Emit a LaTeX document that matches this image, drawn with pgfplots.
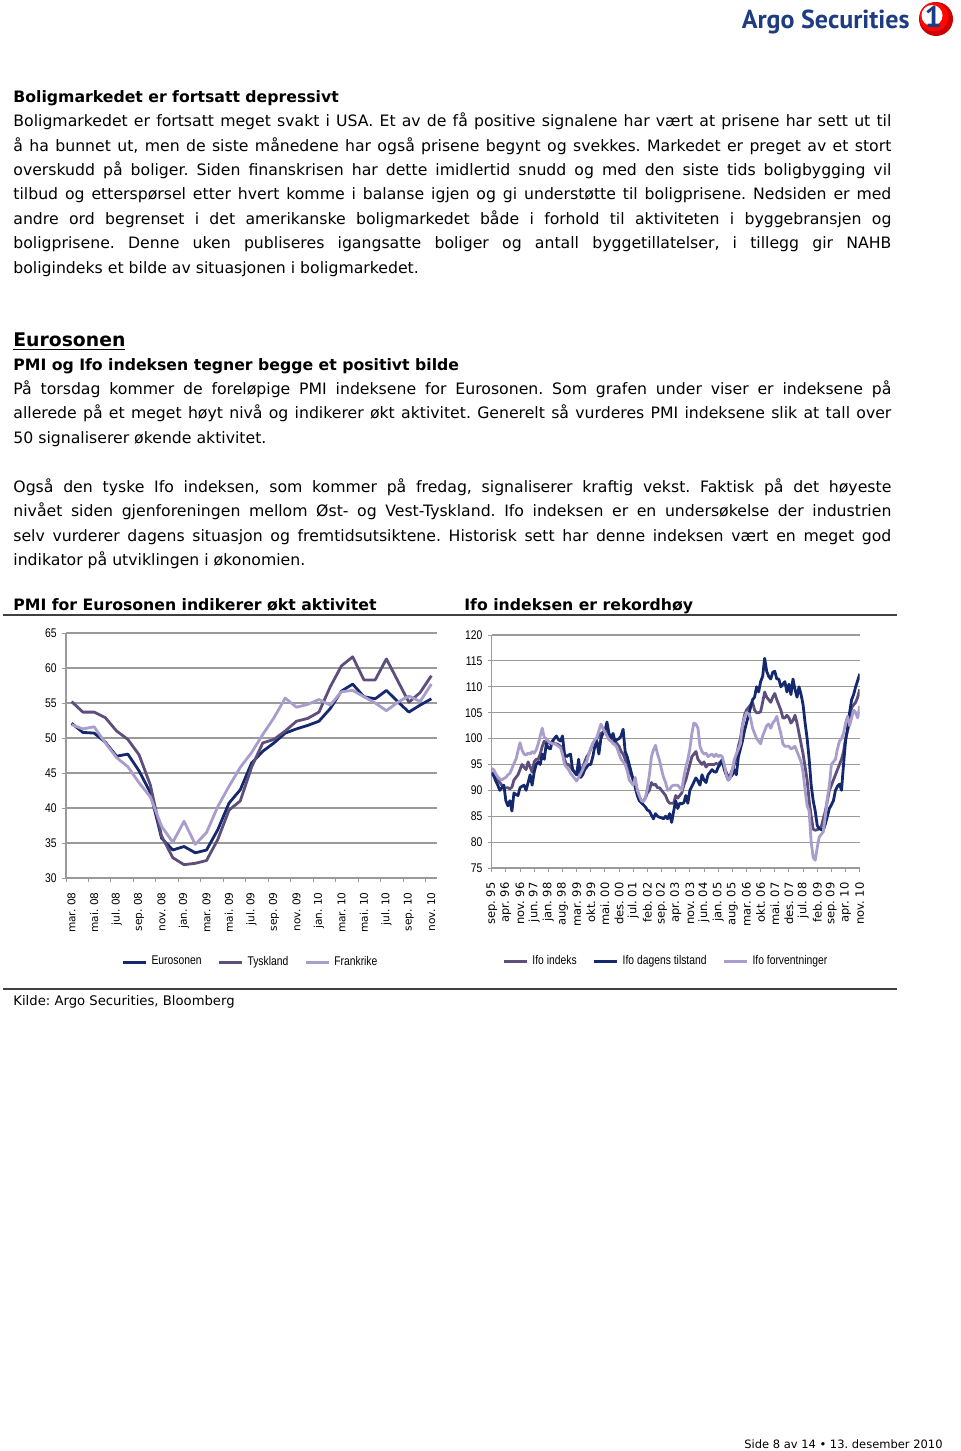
\documentclass[border=0pt]{standalone}
\usepackage{fontspec}
\setmainfont{DejaVu Sans}
\newfontfamily\narrowfont[FakeStretch=0.82]{Liberation Sans}
\newfontfamily\logofont{PT Sans}
\usepackage{pgfplots}
\usepackage{pgfplotstable}
\pgfplotsset{compat=1.18}
\frenchspacing

\definecolor{navyc}{HTML}{14286E}
\definecolor{purc}{HTML}{5E4E7C}
\definecolor{lavc}{HTML}{A99DCB}
\definecolor{gridc}{HTML}{9A9A9A}
\definecolor{logoblue}{HTML}{1E3C82}

\newcommand{\bodyfont}{\fontsize{7.85}{12.2}\selectfont}
\newcommand{\jline}[2]{\node[anchor=base west, inner sep=0pt] at (13,#1) {\bodyfont\makebox[439pt][s]{#2}};}
\newcommand{\fline}[2]{\node[anchor=base west, inner sep=0pt] at (13,#1) {\bodyfont #2};}

% PMI, mar 08 - nov 10
\pgfplotstableread{
i euro tysk frank
0 52.1 55.2 51.9
1 50.8 53.7 51.3
2 50.7 53.7 51.6
3 49.4 52.9 49.3
4 47.4 51.0 47.2
5 47.7 49.8 45.9
6 45.3 47.6 43.6
7 42.2 43.3 41.6
8 35.7 36.0 37.4
9 34.0 32.9 35.1
10 34.5 31.9 38.1
11 33.6 32.1 34.8
12 34.0 32.5 36.5
13 36.9 35.5 40.2
14 40.7 39.7 43.1
15 42.6 41.0 45.8
16 46.4 45.8 47.9
17 48.1 49.3 50.5
18 49.3 49.8 52.9
19 50.7 51.0 55.7
20 51.3 52.4 54.4
21 51.8 52.8 54.8
22 52.4 53.7 55.5
23 54.2 57.3 54.7
24 56.7 60.3 56.6
25 57.7 61.6 56.8
26 55.9 58.3 55.9
27 55.6 58.3 55.0
28 56.8 61.3 53.9
29 55.2 58.2 55.1
30 53.7 55.1 56.0
31 54.7 56.5 55.2
32 55.6 58.9 57.7
}\pmidata

% Ifo, sep 95 - nov 10
\pgfplotstableread{
i idx cur exp
0 93.5 93.3 94.2
1 93.0 92.8 94.0
2 92.5 91.8 93.2
3 92.0 91.0 92.6
4 91.5 90.0 92.2
5 91.0 90.5 92.0
6 90.5 91.0 92.3
7 90.5 88.0 92.5
8 90.5 87.0 93.0
9 90.3 88.0 93.3
10 90.6 86.0 94.2
11 92.0 89.5 95.2
12 92.5 89.2 96.0
13 93.0 89.0 97.6
14 94.0 90.5 99.2
15 95.0 90.8 97.8
16 94.5 91.0 97.0
17 94.0 90.0 96.8
18 95.5 91.5 97.2
19 94.5 93.0 97.0
20 93.5 91.0 97.5
21 95.5 93.5 97.2
22 96.0 95.0 97.8
23 96.0 95.5 99.0
24 97.0 95.0 100.5
25 98.5 97.0 102.0
26 99.5 96.0 100.2
27 99.0 99.0 100.0
28 99.5 98.2 99.5
29 99.0 98.0 99.2
30 99.5 99.5 99.0
31 99.0 100.0 99.0
32 99.0 100.5 98.8
33 98.8 99.8 98.5
34 98.5 99.5 98.2
35 97.5 100.5 97.0
36 96.0 97.0 95.0
37 95.0 96.5 94.5
38 95.0 96.8 94.0
39 94.5 97.0 93.3
40 94.0 94.0 92.8
41 93.5 93.5 92.3
42 93.0 93.0 91.8
43 93.5 96.0 92.5
44 93.5 92.5 93.2
45 94.5 93.0 94.0
46 95.5 94.0 95.0
47 96.5 94.5 95.5
48 97.0 95.0 97.0
49 98.0 95.0 98.2
50 99.0 96.5 99.0
51 99.5 98.5 99.8
52 100.0 99.5 100.2
53 100.5 97.0 101.5
54 101.0 100.0 102.8
55 101.2 101.0 102.0
56 101.5 101.5 101.2
57 101.0 103.2 100.5
58 100.0 101.0 99.8
59 100.0 100.0 99.5
60 99.5 101.0 99.0
61 99.5 99.5 98.8
62 99.0 99.8 98.2
63 98.5 100.0 97.0
64 97.5 100.5 96.0
65 97.0 101.8 95.5
66 96.0 97.5 95.0
67 95.0 96.5 93.8
68 93.5 95.0 92.0
69 93.0 93.5 91.5
70 92.0 92.0 91.0
71 91.5 90.5 92.5
72 90.0 89.0 90.0
73 88.5 88.0 89.0
74 88.0 87.6 88.0
75 88.0 87.2 87.8
76 88.5 86.8 88.5
77 89.5 86.2 90.5
78 90.0 86.0 93.0
79 91.5 85.2 96.5
80 91.0 84.5 97.8
81 91.2 85.5 98.7
82 90.5 85.0 97.0
83 90.5 84.8 95.8
84 90.0 84.7 94.0
85 89.5 84.5 92.5
86 89.0 85.0 91.5
87 88.0 84.5 90.0
88 87.5 85.5 90.2
89 87.5 83.8 90.8
90 87.5 86.0 91.0
91 89.0 88.0 91.0
92 88.5 86.5 91.0
93 89.0 87.5 90.5
94 89.5 87.4 90.0
95 91.0 87.6 92.5
96 92.0 89.0 94.5
97 93.5 87.5 96.0
98 95.0 90.0 98.0
99 96.5 90.8 101.0
100 97.0 91.6 103.0
101 97.5 92.4 102.8
102 96.0 91.8 102.0
103 95.5 91.0 98.5
104 95.0 93.0 97.5
105 95.5 92.0 97.0
106 94.5 91.5 97.2
107 95.0 93.0 96.5
108 95.0 93.5 96.8
109 95.0 94.0 97.0
110 95.0 93.6 96.5
111 95.2 93.5 97.0
112 95.0 94.5 96.5
113 95.5 95.0 96.8
114 95.5 96.0 96.5
115 94.5 94.0 95.0
116 93.5 93.0 93.0
117 92.5 92.0 92.0
118 93.0 92.5 92.5
119 94.0 93.0 94.0
120 95.0 94.0 96.0
121 96.5 93.0 97.0
122 98.5 96.5 98.0
123 100.0 98.0 99.0
124 102.5 99.5 102.5
125 104.5 101.5 104.0
126 105.5 103.0 105.0
127 106.0 104.5 104.8
128 106.5 106.0 104.0
129 107.0 107.5 102.0
130 105.5 108.0 101.0
131 105.0 110.0 100.0
132 105.0 109.0 99.5
133 105.2 111.0 99.0
134 107.0 112.0 100.5
135 109.0 115.5 101.5
136 108.0 113.0 102.5
137 107.5 112.0 102.8
138 107.0 111.5 102.0
139 108.0 112.8 103.0
140 108.7 113.0 103.5
141 107.5 111.5 104.3
142 106.5 111.5 102.5
143 105.5 110.0 101.0
144 104.0 110.5 99.0
145 104.0 111.0 98.5
146 104.5 109.0 98.5
147 104.0 110.5 98.5
148 103.0 108.5 98.0
149 103.5 111.5 98.2
150 104.5 109.5 98.5
151 103.0 108.0 97.5
152 101.0 110.0 96.5
153 99.0 108.5 95.5
154 97.0 106.5 93.5
155 94.5 103.0 90.0
156 92.0 100.0 87.0
157 88.0 96.0 86.0
158 85.0 91.0 80.0
159 82.5 88.0 77.0
160 82.3 86.0 76.5
161 82.4 83.2 79.0
162 82.6 82.6 81.0
163 83.0 82.4 81.5
164 84.5 82.3 82.0
165 86.0 83.5 85.0
166 88.0 85.0 88.5
167 90.0 86.5 91.0
168 91.0 87.2 95.0
169 92.0 88.0 95.5
170 93.0 90.0 96.0
171 94.0 90.8 98.0
172 95.0 91.2 99.5
173 96.0 90.0 100.0
174 97.5 95.0 101.0
175 100.0 99.5 103.0
176 101.5 102.0 104.3
177 103.0 105.0 102.5
178 106.0 107.5 104.0
179 106.5 108.5 105.5
180 107.0 110.0 105.0
181 108.0 111.2 104.0
182 109.5 112.5 106.3
}\ifodata

\pgfplotsset{
  argo/.style={
    scale only axis, anchor=north west,
    axis x line*=bottom, axis y line*=left,
    axis line style={gridc, line width=0.6pt},
    ymajorgrids, grid style={gridc, line width=0.6pt},
    tick align=outside,
    tick style={gridc, line width=0.5pt},
    major tick length=2pt, minor tick length=2pt,
    /pgf/number format/assume math mode=true,
    yticklabel style={font=\narrowfont\fontsize{6.3}{7}\selectfont, inner sep=0pt, xshift=-2.5pt},
    xticklabel style={rotate=90, anchor=east, inner sep=0pt},
    xticklabel shift=5pt,
    legend style={draw=none, fill=none, font=\narrowfont\fontsize{6.3}{7}\selectfont,
      legend columns=3, legend cell align=left,
      /tikz/every even column/.append style={column sep=6pt}},
    legend image code/.code={\draw[##1, line width=1.5pt] (0pt,0pt) -- (11.5pt,0pt);},
    every axis plot/.append style={line width=1.4pt, line join=round},
  }
}

\begin{document}
\begin{tikzpicture}
\fill[white] (0pt,0pt) rectangle (480pt,-725.5pt);
\path[use as bounding box] (0pt,0pt) rectangle (480pt,-725.5pt);

\begin{scope}[x=0.5pt, y=-0.5pt]
% logo
\node[anchor=base east, inner sep=0pt, text=logoblue] at (910,28) {\logofont\bfseries\fontsize{13}{14}\selectfont Argo Securities};
\fill[red!80!black] (936,19) circle (17);
\fill[red!95!orange] (934,17) circle (14.5);
\fill[white] (932,15.5) circle (10.5);
\node[inner sep=0pt, text=logoblue] at (933,17) {\logofont\bfseries\fontsize{15}{15}\selectfont 1};

% first section
\node[anchor=base west, inner sep=0pt] at (13,102.7) {\bodyfont\bfseries Boligmarkedet er fortsatt depressivt};
\jline{126.7}{Boligmarkedet er fortsatt meget svakt i USA. Et av de få positive signalene har vært at prisene har sett ut til}
\jline{151.1}{å ha bunnet ut, men de siste månedene har også prisene begynt og svekkes. Markedet er preget av et stort}
\jline{175.5}{overskudd på boliger. Siden finanskrisen har dette imidlertid snudd og med den siste tids boligbygging vil}
\jline{199.9}{tilbud og etterspørsel etter hvert komme i balanse igjen og gi understøtte til boligprisene. Nedsiden er med}
\jline{224.3}{andre ord begrenset i det amerikanske boligmarkedet både i forhold til aktiviteten i byggebransjen og}
\jline{248.7}{boligprisene. Denne uken publiseres igangsatte boliger og antall byggetillatelser, i tillegg gir NAHB}
\fline{273.1}{boligindeks et bilde av situasjonen i boligmarkedet.}

% Eurosonen
\node[anchor=base west, inner sep=0pt] at (13,346.7) {\fontsize{9.4}{12}\selectfont\bfseries\underline{Eurosonen}};
\node[anchor=base west, inner sep=0pt] at (13,370) {\bodyfont\bfseries PMI og Ifo indeksen tegner begge et positivt bilde};
\jline{394.4}{På torsdag kommer de foreløpige PMI indeksene for Eurosonen. Som grafen under viser er indeksene på}
\jline{418.8}{allerede på et meget høyt nivå og indikerer økt aktivitet. Generelt så vurderes PMI indeksene slik at tall over}
\fline{443.2}{50 signaliserer økende aktivitet.}
\jline{492.4}{Også den tyske Ifo indeksen, som kommer på fredag, signaliserer kraftig vekst. Faktisk på det høyeste}
\jline{516.8}{nivået siden gjenforeningen mellom Øst- og Vest-Tyskland. Ifo indeksen er en undersøkelse der industrien}
\jline{541.2}{selv vurderer dagens situasjon og fremtidsutsiktene. Historisk sett har denne indeksen vært en meget god}
\fline{565.6}{indikator på utviklingen i økonomien.}

% chart titles and rules
\node[anchor=base west, inner sep=0pt] at (13,610.7) {\bodyfont\bfseries PMI for Eurosonen indikerer økt aktivitet};
\node[anchor=base west, inner sep=0pt] at (464,610.7) {\bodyfont\bfseries Ifo indeksen er rekordhøy};
\draw[black!75, line width=1pt] (3,615) -- (897,615);
\draw[black!75, line width=0.8pt] (3,989) -- (897,989);
\node[anchor=base west, inner sep=0pt] at (13,1005) {\fontsize{6.6}{8}\selectfont Kilde: Argo Securities, Bloomberg};
\node[anchor=base east, inner sep=0pt] at (943,1448.5) {\fontsize{5.75}{8}\selectfont Side 8 av 14 \textbullet\ 13. desember 2010};
\end{scope}

% PMI chart
\begin{axis}[argo,
  at={(33pt,-316.5pt)},
  width=185.5pt, height=122.5pt,
  xmin=-0.5, xmax=32.5, ymin=30, ymax=65,
  ytick={30,35,...,65},
  xtick={0,2,...,32},
  xticklabel style={font=\fontsize{5.3}{6}\selectfont},
  xticklabels={mar. 08, mai. 08, jul. 08, sep. 08, nov. 08, jan. 09, mar. 09, mai. 09, jul. 09, sep. 09, nov. 09, jan. 10, mar. 10, mai. 10, jul. 10, sep. 10, nov. 10},
  major x tick style={draw=none},
  minor xtick={-0.5,1.5,...,31.5},
  legend style={at={(0.5,-0.343)}, anchor=center},
]
\addplot[navyc] table[x=i, y=euro] {\pmidata};
\addplot[purc] table[x=i, y=tysk] {\pmidata};
\addplot[lavc] table[x=i, y=frank] {\pmidata};
\legend{Eurosonen, Tyskland, Frankrike}
\end{axis}

% Ifo chart
\begin{axis}[argo,
  at={(245.85pt,-317.5pt)},
  width=184pt, height=116.5pt,
  xmin=0, xmax=182, ymin=75, ymax=120,
  ytick={75,80,...,120},
  xtick={0,7,...,182},
  xticklabel style={font=\fontsize{5.75}{6}\selectfont},
  xticklabels={sep. 95, apr. 96, nov. 96, jun. 97, jan. 98, aug. 98, mar. 99, okt. 99, mai. 00, des. 00, jul. 01, feb. 02, sep. 02, apr. 03, nov. 03, jun. 04, jan. 05, aug. 05, mar. 06, okt. 06, mai. 07, des. 07, jul. 08, feb. 09, sep. 09, apr. 10, nov. 10},
  legend style={at={(0.476,-0.403)}, anchor=center},
]
\addplot[purc] table[x=i, y=idx] {\ifodata};
\addplot[navyc] table[x=i, y=cur] {\ifodata};
\addplot[lavc] table[x=i, y=exp] {\ifodata};
\legend{Ifo indeks, Ifo dagens tilstand, Ifo forventninger}
\end{axis}
\end{tikzpicture}
\end{document}
